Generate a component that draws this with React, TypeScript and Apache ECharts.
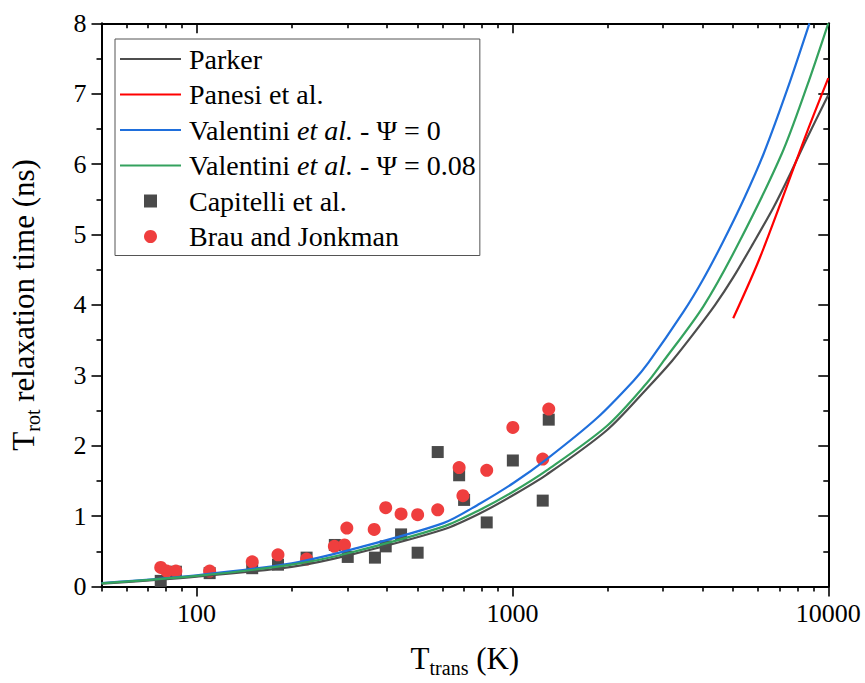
import React, { useEffect, useRef } from "react";
import * as echarts from "echarts";

// ---- data ----
const parkerT = [50, 100, 200, 306, 604, 790, 1007, 1284, 1990, 2664, 3195, 3700, 4383, 5000, 5794, 6699, 7500, 8500, 10000];
const parkerTau = [0.04, 0.14, 0.28, 0.45, 0.81, 1.04, 1.3, 1.59, 2.22, 2.81, 3.2, 3.56, 4.0, 4.39, 4.88, 5.38, 5.82, 6.34, 6.98];

const panesiT = [5000, 6085, 8540, 10000];
const panesiTau = [3.81, 4.68, 6.44, 7.22];

const val0T = [50, 100, 200, 306, 604, 790, 1007, 1284, 1849, 2415, 2695, 3477, 4000, 4635, 5400, 6232, 7400, 8715];
const val0Tau = [0.05, 0.16, 0.33, 0.52, 0.9, 1.18, 1.47, 1.81, 2.39, 2.92, 3.18, 3.9, 4.35, 4.89, 5.5, 6.14, 7.05, 8.0];

const val08T = [50, 100, 200, 306, 604, 790, 1007, 1284, 1990, 2664, 3006, 4023, 5233, 7129, 8551, 10000];
const val08Tau = [0.045, 0.15, 0.31, 0.48, 0.85, 1.09, 1.35, 1.65, 2.28, 2.89, 3.2, 3.98, 4.9, 6.15, 7.1, 8.0];

const capitelliT = [77, 86, 110, 150, 181, 223, 274, 301, 367, 397, 444, 501, 580, 678, 703, 829, 1003, 1247, 1303];
const capitelliTau = [0.08, 0.21, 0.19, 0.26, 0.31, 0.41, 0.59, 0.42, 0.41, 0.57, 0.74, 0.48, 1.91, 1.58, 1.23, 0.91, 1.79, 1.22, 2.37];

const brauT = [77, 80.5, 86, 110, 150, 181, 223, 273, 294, 299, 365, 397, 444, 501, 580, 678, 697, 829, 1003, 1247, 1303];
const brauTau = [0.27, 0.22, 0.22, 0.22, 0.35, 0.45, 0.39, 0.57, 0.59, 0.83, 0.81, 1.12, 1.03, 1.02, 1.09, 1.69, 1.29, 1.65, 2.26, 1.81, 2.52];

const xMajorTicks = [100, 1000, 10000];
const xMinorTicks = [50, 60, 70, 80, 90, 200, 300, 400, 500, 600, 700, 800, 900, 2000, 3000, 4000, 5000, 6000, 7000, 8000, 9000];

const seriesNames = [
  "Parker",
  "Panesi et al.",
  "Valentini et al. - Ψ = 0",
  "Valentini et al. - Ψ = 0.08",
  "Capitelli et al.",
  "Brau and Jonkman",
];
const lineSeriesNames = seriesNames.slice(0, 4);
const legendRich: Record<string, string> = {
  "Parker": "{n|Parker}",
  "Panesi et al.": "{n|Panesi et al.}",
  "Valentini et al. - Ψ = 0": "{n|Valentini }{i|et al.}{n| - Ψ = 0}",
  "Valentini et al. - Ψ = 0.08": "{n|Valentini }{i|et al.}{n| - Ψ = 0.08}",
  "Capitelli et al.": "{n|Capitelli et al.}",
  "Brau and Jonkman": "{n|Brau and Jonkman}",
};

const FONT = "Liberation Serif";

function pairs(xs: number[], ys: number[]) {
  return xs.map((x, i) => [x, ys[i]]);
}

export default function App() {
  const ref = useRef<HTMLDivElement>(null);
  useEffect(() => {
    const chart = echarts.init(ref.current!, null, { renderer: "svg" });
    const line = { show: true, onZero: false, lineStyle: { color: "#000", width: 2 } };
    const noLine = { show: false, onZero: false };
    const tickStyle = { color: "#000", width: 1.6 };
    const baseX = {
      type: "log",
      logBase: 10,
      min: 50,
      max: 10000,
      gridIndex: 0,
      splitLine: { show: false },
      minorSplitLine: { show: false },
    };
    const baseY = {
      type: "value",
      min: 0,
      max: 8,
      interval: 1,
      gridIndex: 0,
      splitLine: { show: false },
    };
    const titleRich = {
      a: { fontFamily: FONT, fontSize: 31, lineHeight: 38, color: "#000" },
      s: { fontFamily: FONT, fontSize: 20, lineHeight: 16, verticalAlign: "bottom", color: "#000" },
    };
    const legendData = seriesNames.map((n) =>
      lineSeriesNames.indexOf(n) >= 0
        ? { name: n, itemStyle: { opacity: 0 } }
        : n === "Capitelli et al."
        ? { name: n, icon: "path://M0 0H10V10H0Z", symbolKeepAspect: true }
        : { name: n, icon: "circle", symbolKeepAspect: true }
    );
    chart.setOption({
      animation: false,
      backgroundColor: "#fff",
      textStyle: { fontFamily: FONT },
      grid: { left: 101.5, right: 36.7, top: 23.3, bottom: 96.5, containLabel: false, outerBoundsMode: "none" },
      legend: {
        data: legendData,
        orient: "vertical",
        left: 115,
        top: 39,
        align: "left",
        padding: [5, 4, 4, 4],
        itemWidth: 61,
        itemHeight: 13,
        itemGap: 5.5,
        symbolKeepAspect: true,
        borderColor: "#555",
        borderWidth: 1,
        backgroundColor: "#fff",
        selectedMode: false,
        formatter: (name: string) => legendRich[name] || name,
        textStyle: {
          fontFamily: FONT,
          fontSize: 28,
          lineHeight: 30,
          color: "#000",
          padding: [0, 0, 0, 3],
          rich: {
            n: { fontFamily: FONT, fontSize: 28, lineHeight: 30, color: "#000" },
            i: { fontFamily: FONT, fontSize: 28, lineHeight: 30, fontStyle: "italic", color: "#000" },
          },
        },
      },
      xAxis: [
        {
          ...baseX,
          position: "bottom",
          axisLine: line,
          axisTick: { show: true, inside: false, length: 10, customValues: xMajorTicks, lineStyle: tickStyle },
          axisLabel: {
            show: true,
            customValues: xMajorTicks,
            margin: 14,
            fontFamily: FONT,
            fontSize: 26,
            color: "#000",
            formatter: (v: number) => String(Math.round(v)),
          },
          name: "{a|T}{s|trans}{a| (K)}",
          nameLocation: "middle",
          nameGap: 53,
          nameTextStyle: { fontFamily: FONT, rich: titleRich },
        },
        {
          ...baseX,
          position: "bottom",
          axisLine: noLine,
          axisTick: { show: true, inside: false, length: 5, customValues: xMinorTicks, lineStyle: tickStyle },
          axisLabel: { show: false },
        },
        {
          ...baseX,
          position: "top",
          axisLine: line,
          axisTick: { show: true, inside: true, length: 10, customValues: xMajorTicks, lineStyle: tickStyle },
          axisLabel: { show: false },
        },
        {
          ...baseX,
          position: "top",
          axisLine: noLine,
          axisTick: { show: true, inside: true, length: 5, customValues: xMinorTicks, lineStyle: tickStyle },
          axisLabel: { show: false },
        },
      ],
      yAxis: [
        {
          ...baseY,
          position: "left",
          axisLine: line,
          axisTick: { show: true, inside: false, length: 10, lineStyle: tickStyle },
          minorTick: { show: true, splitNumber: 2, length: 5, lineStyle: tickStyle },
          axisLabel: { margin: 15, fontFamily: FONT, fontSize: 26, color: "#000" },
          name: "{a|T}{s|rot}{a| relaxation time (ns)}",
          nameLocation: "middle",
          nameRotate: 90,
          nameGap: 59,
          nameTextStyle: { fontFamily: FONT, rich: titleRich },
        },
        {
          ...baseY,
          position: "right",
          axisLine: line,
          axisTick: { show: true, inside: true, length: 10, lineStyle: tickStyle },
          minorTick: { show: true, splitNumber: 2, length: 5, lineStyle: tickStyle },
          axisLabel: { show: false },
        },
      ],
      series: [
        {
          name: "Parker",
          type: "line",
          data: pairs(parkerT, parkerTau),
          symbol: "none",
          smooth: 0.3,
          lineStyle: { color: "#4d4d4d", width: 2.2 },
          itemStyle: { color: "#4d4d4d" },
        },
        {
          name: "Panesi et al.",
          type: "line",
          data: pairs(panesiT, panesiTau),
          symbol: "none",
          smooth: 0.3,
          lineStyle: { color: "#ff0000", width: 2.2 },
          itemStyle: { color: "#ff0000" },
        },
        {
          name: "Valentini et al. - Ψ = 0",
          type: "line",
          data: pairs(val0T, val0Tau),
          symbol: "none",
          smooth: 0.3,
          lineStyle: { color: "#1f6fdc", width: 2.2 },
          itemStyle: { color: "#1f6fdc" },
        },
        {
          name: "Valentini et al. - Ψ = 0.08",
          type: "line",
          data: pairs(val08T, val08Tau),
          symbol: "none",
          smooth: 0.3,
          lineStyle: { color: "#34a25e", width: 2.2 },
          itemStyle: { color: "#34a25e" },
        },
        {
          name: "Capitelli et al.",
          type: "scatter",
          data: pairs(capitelliT, capitelliTau),
          symbol: "rect",
          symbolSize: 12,
          itemStyle: { color: "#4a4a4a", opacity: 1 },
        },
        {
          name: "Brau and Jonkman",
          type: "scatter",
          data: pairs(brauT, brauTau),
          symbol: "circle",
          symbolSize: 13,
          itemStyle: { color: "#ef3e3e", opacity: 1 },
        },
      ],
    });
    return () => chart.dispose();
  }, []);
  return (
    <div
      ref={ref}
      style={{ position: "fixed", left: 0, top: 0, width: 865, height: 683, background: "#fff" }}
    />
  );
}
